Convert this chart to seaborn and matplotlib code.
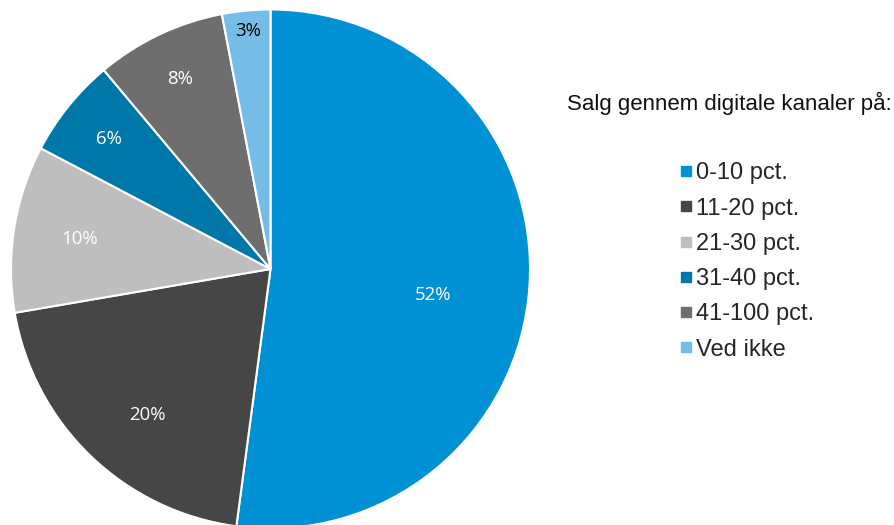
import numpy as np
import matplotlib
matplotlib.use("Agg")
import matplotlib.pyplot as plt
from matplotlib.lines import Line2D
import seaborn as sns

# --- data ---
categories = ["0-10 pct.", "11-20 pct.", "21-30 pct.", "31-40 pct.", "41-100 pct.", "Ved ikke"]
shares = [52.1, 20.2, 10.4, 6.2, 8.1, 3.0]
slice_labels = ["52%", "20%", "10%", "6%", "8%", "3%"]
colors = ["#0091D5", "#464646", "#BEBEBE", "#0077A9", "#6E6E6E", "#75BDE7"]
label_colors = ["white", "white", "white", "white", "white", "black"]
# Excel "best fit" style label placement (radius fraction, angle nudge in degrees)
label_radius = [0.636, 0.736, 0.745, 0.80, 0.81, 0.92]
label_nudge = [-5.3, 3.8, 0, 0, 0, 0]
legend_title = "Salg gennem digitale kanaler på:"

sns.set_theme(style="white")
plt.rcParams["font.family"] = ["Liberation Sans", "DejaVu Sans"]

fig = plt.figure(figsize=(8.95, 5.25), dpi=100)
# pie is slightly cut off at the bottom edge, like the reference
ax = fig.add_axes([11 / 895, -3.5 / 525, 519 / 895, 519 / 525])

wedges, _ = ax.pie(shares, colors=colors, startangle=90, counterclock=False,
                   wedgeprops={"edgecolor": "white", "linewidth": 1.5})
ax.set_xlim(-1, 1)
ax.set_ylim(-1, 1)
ax.set_aspect("equal")
ax.axis("off")

# percentage labels inside each slice
for w, lab, col, r, nd in zip(wedges, slice_labels, label_colors, label_radius, label_nudge):
    mid = np.deg2rad((w.theta1 + w.theta2) / 2 + nd)
    ax.text(r * np.cos(mid), r * np.sin(mid), lab, ha="center", va="center",
            color=col, fontsize=13.4, family=["Open Sans", "DejaVu Sans"])

# legend title + legend entries
fig.text(567 / 895, 1 - 103 / 525, legend_title, ha="left", va="center",
         fontsize=16, color="#111111")
handles = [Line2D([0], [0], marker="s", linestyle="", markersize=6.8,
                  markerfacecolor=c, markeredgecolor=c) for c in colors]
fig.legend(handles, categories, loc="upper left",
           bbox_to_anchor=(671 / 895, 1 - 153 / 525), frameon=False,
           fontsize=17, handlelength=0.5, handletextpad=0.15,
           labelspacing=0.56, borderaxespad=0)

fig.savefig("out.png", dpi=100)
